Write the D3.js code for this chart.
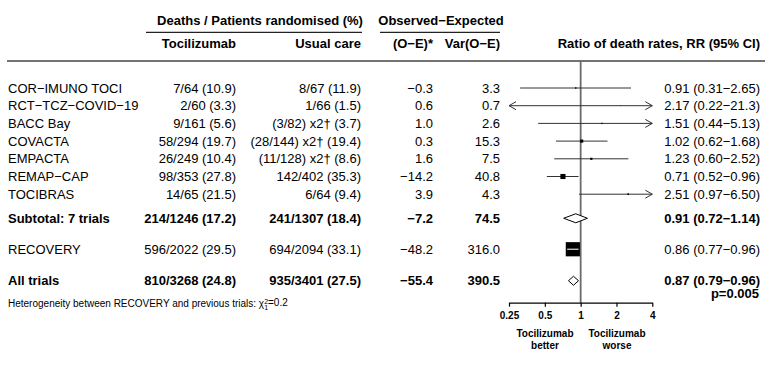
<!DOCTYPE html>
<html><head><meta charset="utf-8">
<script src="https://cdn.jsdelivr.net/npm/d3@7"></script>
<style>
html,body{margin:0;padding:0;background:#fff;}
svg{display:block;font-family:"Liberation Sans",Arial,Helvetica,sans-serif;}
</style></head>
<body>
<svg id="chart" width="779" height="366"></svg>
<script>
// ---- data ----
const rowLabels = ["COR−IMUNO TOCI","RCT−TCZ−COVID−19","BACC Bay","COVACTA","EMPACTA","REMAP−CAP","TOCIBRAS","Subtotal: 7 trials","RECOVERY","All trials"];
const tociDeaths = ["7/64 (10.9)","2/60 (3.3)","9/161 (5.6)","58/294 (19.7)","26/249 (10.4)","98/353 (27.8)","14/65 (21.5)","214/1246 (17.2)","596/2022 (29.5)","810/3268 (24.8)"];
const usualDeaths = ["8/67 (11.9)","1/66 (1.5)","(3/82) x2† (3.7)","(28/144) x2† (19.4)","(11/128) x2† (8.6)","142/402 (35.3)","6/64 (9.4)","241/1307 (18.4)","694/2094 (33.1)","935/3401 (27.5)"];
const oMinusE = [-0.3,0.6,1.0,0.3,1.6,-14.2,3.9,-7.2,-48.2,-55.4];
const varOE = [3.3,0.7,2.6,15.3,7.5,40.8,4.3,74.5,316.0,390.5];
const rrValue = [0.91,2.17,1.51,1.02,1.23,0.71,2.51,0.91,0.86,0.87];
const ciLow = [0.31,0.22,0.44,0.62,0.60,0.52,0.97,0.72,0.77,0.79];
const ciHigh = [2.65,21.3,5.13,1.68,2.52,0.96,6.50,1.14,0.96,0.96];
const isSummary = [false,false,false,false,false,false,false,true,false,true];
const axisTicks = [0.25,0.5,1,2,4];
const pValueText = "p=0.005";

// ---- layout ----
const svg = d3.select("#chart");
const minus = s => s.replace("-", "−");
const fmt1 = d => minus(d3.format(".1f")(d));
const fmt2 = d => d3.format(".2f")(d);
const fmtCI = d => d >= 10 ? d3.format(".1f")(d) : d3.format(".2f")(d);

const slots = [0,1,2,3,4,5,6,7.36,9.11,10.89];
const yRow = d3.scaleLinear().domain([0,1]).range([88,105.7]);
const x = d3.scaleLog().base(2).domain([0.25,4]).range([509,652.3]);
const boxSide = d3.scaleSqrt().domain([0,316]).range([0,14.2]);

const colLabel = 8, colToci = 236, colUsual = 361, colOE = 433, colVar = 500, colRR = 760;

// headers
const hdr = svg.append("g").attr("font-weight","bold").attr("font-size",13).attr("fill","#000");
hdr.append("text").attr("x",260).attr("y",20.7).attr("dy","0.35em").attr("text-anchor","middle").text("Deaths / Patients randomised (%)");
hdr.append("text").attr("x",441).attr("y",20.7).attr("dy","0.35em").attr("text-anchor","middle").text("Observed−Expected");
hdr.append("text").attr("x",colToci).attr("y",43.3).attr("dy","0.35em").attr("text-anchor","end").text("Tocilizumab");
hdr.append("text").attr("x",colUsual).attr("y",43.3).attr("dy","0.35em").attr("text-anchor","end").text("Usual care");
hdr.append("text").attr("x",colOE).attr("y",43.3).attr("dy","0.35em").attr("text-anchor","end").text("(O−E)*");
hdr.append("text").attr("x",colVar).attr("y",43.3).attr("dy","0.35em").attr("text-anchor","end").text("Var(O−E)");
hdr.append("text").attr("x",colRR).attr("y",43.3).attr("dy","0.35em").attr("text-anchor","end").text("Ratio of death rates, RR (95% CI)");

svg.append("line").attr("x1",146).attr("x2",362).attr("y1",32.3).attr("y2",32.3).attr("stroke","#222").attr("stroke-width",1.2);
svg.append("line").attr("x1",380).attr("x2",500).attr("y1",32.3).attr("y2",32.3).attr("stroke","#222").attr("stroke-width",1.2);
svg.append("line").attr("x1",7).attr("x2",765).attr("y1",61).attr("y2",61).attr("stroke","#444").attr("stroke-width",1.5);

// reference line at 1
const axisY = 302.7;
svg.append("line").attr("x1",x(1)).attr("x2",x(1)).attr("y1",61).attr("y2",axisY).attr("stroke","#6a6a6a").attr("stroke-width",1.8);

// text rows
const rows = svg.append("g").attr("font-size",13).attr("fill","#000");
rowLabels.forEach((lab,i) => {
  const y = yRow(slots[i]);
  const g = rows.append("g").attr("font-weight", isSummary[i] ? "bold" : "normal");
  g.append("text").attr("x",colLabel).attr("y",y).attr("dy","0.35em").text(lab);
  g.append("text").attr("x",colToci).attr("y",y).attr("dy","0.35em").attr("text-anchor","end").text(tociDeaths[i]);
  g.append("text").attr("x",colUsual).attr("y",y).attr("dy","0.35em").attr("text-anchor","end").text(usualDeaths[i]);
  g.append("text").attr("x",colOE).attr("y",y).attr("dy","0.35em").attr("text-anchor","end").text(fmt1(oMinusE[i]));
  g.append("text").attr("x",colVar).attr("y",y).attr("dy","0.35em").attr("text-anchor","end").text(d3.format(".1f")(varOE[i]));
  g.append("text").attr("x",colRR).attr("y",y).attr("dy","0.35em").attr("text-anchor","end")
    .text(`${fmt2(rrValue[i])} (${fmtCI(ciLow[i])}−${fmtCI(ciHigh[i])})`);
});
rows.append("text").attr("x",colRR-1).attr("y",yRow(slots[9])+12.3).attr("dy","0.35em").attr("text-anchor","end").attr("font-weight","bold").text(pValueText);

// forest marks
const marks = svg.append("g");
const [dLo, dHi] = x.domain();
rowLabels.forEach((lab,i) => {
  const y = yRow(slots[i]);
  if (isSummary[i]) {
    const h = 4.5;
    marks.append("path")
      .attr("d", `M${x(ciLow[i])},${y} L${x(rrValue[i])},${y-h} L${x(ciHigh[i])},${y} L${x(rrValue[i])},${y+h} Z`)
      .attr("fill","#fff").attr("stroke","#000").attr("stroke-width",1);
    return;
  }
  const l = Math.max(ciLow[i], dLo), r = Math.min(ciHigh[i], dHi);
  marks.append("line").attr("x1",x(l)).attr("x2",x(r)).attr("y1",y).attr("y2",y).attr("stroke","#333").attr("stroke-width",1);
  if (ciLow[i] < dLo) {
    marks.append("path").attr("d",`M${x(dLo)+7},${y-4} L${x(dLo)},${y} L${x(dLo)+7},${y+4}`).attr("fill","none").attr("stroke","#333").attr("stroke-width",1);
  }
  if (ciHigh[i] > dHi) {
    marks.append("path").attr("d",`M${x(dHi)-7},${y-4} L${x(dHi)},${y} L${x(dHi)-7},${y+4}`).attr("fill","none").attr("stroke","#333").attr("stroke-width",1);
  }
  const s = boxSide(varOE[i]);
  marks.append("rect").attr("x",x(rrValue[i])-s/2).attr("y",y-s/2).attr("width",s).attr("height",s).attr("fill","#000");
  if (x(ciLow[i]) > x(rrValue[i])-s/2 && x(ciHigh[i]) < x(rrValue[i])+s/2) {
    marks.append("line").attr("x1",x(ciLow[i])).attr("x2",x(ciHigh[i])).attr("y1",y).attr("y2",y).attr("stroke","#ddd").attr("stroke-width",1.2);
  }
});

// axis
const axisG = svg.append("g").attr("transform",`translate(0,${axisY})`)
  .call(d3.axisBottom(x).tickValues(axisTicks).tickFormat(d => d).tickSize(4).tickSizeOuter(0));
axisG.select(".domain").attr("stroke","#000").attr("stroke-width",1.2);
axisG.selectAll(".tick line").attr("stroke","#000").attr("stroke-width",1.2);
axisG.selectAll(".tick text").attr("font-family","Liberation Sans, Arial, sans-serif").attr("font-size",10).attr("font-weight","bold").attr("fill","#000").attr("dy","0.9em");

const lg = svg.append("g").attr("font-size",10).attr("font-weight","bold").attr("fill","#000").attr("text-anchor","middle");
lg.append("text").attr("x",545).attr("y",333).attr("dy","0.35em").text("Tocilizumab");
lg.append("text").attr("x",545).attr("y",345.5).attr("dy","0.35em").text("better");
lg.append("text").attr("x",617).attr("y",333).attr("dy","0.35em").text("Tocilizumab");
lg.append("text").attr("x",617).attr("y",345.5).attr("dy","0.35em").text("worse");

// heterogeneity note
const het = svg.append("text").attr("x",8).attr("y",303.5).attr("dy","0.35em").attr("font-size",10).attr("fill","#000");
het.append("tspan").text("Heterogeneity between RECOVERY and previous trials: χ");
het.append("tspan").attr("font-size",7).attr("dy","-0.45em").text("2");
het.append("tspan").attr("font-size",7).attr("dx","-3.9").attr("dy","0.85em").text("1");
het.append("tspan").attr("dy","-0.4em").text("=0.2");
</script>
</body></html>
